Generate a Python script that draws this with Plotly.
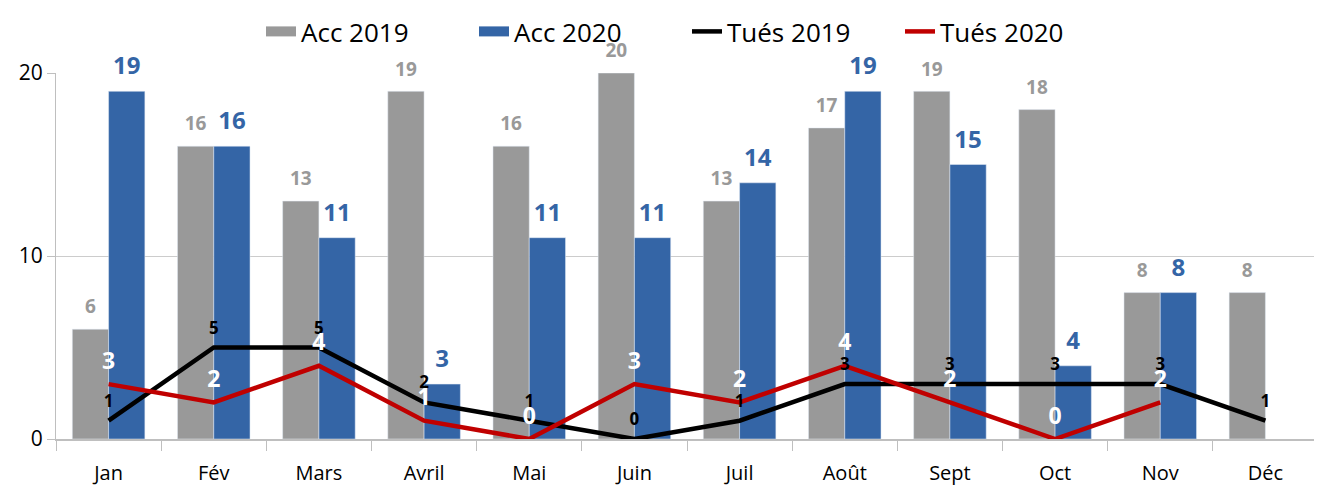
import plotly.graph_objects as go

months = ["Jan", "Fév", "Mars", "Avril", "Mai", "Juin", "Juil", "Août", "Sept", "Oct", "Nov", "Déc"]
acc_2019 = [6, 16, 13, 19, 16, 20, 13, 17, 19, 18, 8, 8]
acc_2020 = [19, 16, 11, 3, 11, 11, 14, 19, 15, 4, 8, None]
tues_2019 = [1, 5, 5, 2, 1, 0, 1, 3, 3, 3, 3, 1]
tues_2020 = [3, 2, 4, 1, 0, 3, 2, 4, 2, 0, 2, None]

GREY = "#999999"
BLUE = "#3465a6"
RED = "#c00000"
FONT = "Open Sans"
GAP = 0.31


def labels(x, y, color, size, group, xaxis="x", msize=16):
    # invisible markers, text only; grouped like the bars so labels sit over them
    return go.Scatter(x=x, y=y, text=y, mode="markers+text", xaxis=xaxis,
                      marker=dict(size=msize, opacity=0), textposition="top center",
                      textfont=dict(color=color, size=size, family=FONT, weight="bold"),
                      offsetgroup=group, showlegend=False, hoverinfo="skip", cliponaxis=False)


fig = go.Figure()
fig.add_bar(name="Acc 2019", x=months, y=acc_2019, marker_color=GREY, offsetgroup="a19",
            showlegend=False)
fig.add_bar(name="Acc 2020", x=months, y=acc_2020, marker_color=BLUE, offsetgroup="a20",
            showlegend=False)
fig.add_trace(labels(months, acc_2019, GREY, 19, "a19"))
fig.add_trace(labels(months, acc_2020, BLUE, 24, "a20"))

# overlay axis for the lines so they stay centred on each month
fig.add_scatter(name="Acc 2019", x=[months[0]], y=[None], mode="lines", xaxis="x2",
                line=dict(color=GREY, width=20), offsetgroup="L")
fig.add_scatter(name="Acc 2020", x=[months[0]], y=[None], mode="lines", xaxis="x2",
                line=dict(color=BLUE, width=20), offsetgroup="L")
fig.add_scatter(name="Tués 2019", x=months, y=tues_2019, mode="lines", xaxis="x2",
                line=dict(color="black", width=4.5), offsetgroup="L")
fig.add_scatter(name="Tués 2020", x=months, y=tues_2020, mode="lines", xaxis="x2",
                line=dict(color=RED, width=4.5), offsetgroup="L")
fig.add_trace(labels(months, tues_2019, "black", 17, "L", "x2", 14))
fig.add_trace(labels(months, tues_2020, "white", 23, "L", "x2", 14))

fig.update_layout(
    width=1314, height=477,
    margin=dict(l=48, r=4, t=65, b=46),
    plot_bgcolor="white", paper_bgcolor="white",
    font=dict(family=FONT, color="black", size=20),
    barmode="group", bargap=GAP, bargroupgap=0,
    scattermode="group", scattergap=GAP,
    legend=dict(orientation="h", x=0.5, xanchor="center", y=1.0, yanchor="top",
                yref="container", font=dict(size=26), itemwidth=30,
                entrywidth=168, tracegroupgap=0, bgcolor="rgba(0,0,0,0)"),
    xaxis=dict(categoryorder="array", categoryarray=months, automargin=False,
               showline=True, linecolor="#bfbfbf", linewidth=1.5,
               ticks="outside", tickson="boundaries", ticklen=10,
               tickcolor="#bfbfbf", tickfont=dict(size=20), ticklabelstandoff=15),
    xaxis2=dict(overlaying="x", anchor="y", categoryorder="array", categoryarray=months,
                showticklabels=False, showgrid=False, showline=False, ticks=""),
    yaxis=dict(range=[0, 20], tickvals=[0, 10, 20], showgrid=True, gridcolor="#cccccc",
               gridwidth=1, zeroline=False, showline=True, linecolor="#bfbfbf",
               ticks="outside", ticklen=8, tickcolor="#bfbfbf", tickfont=dict(size=21)),
)

fig.write_html("out.html")
